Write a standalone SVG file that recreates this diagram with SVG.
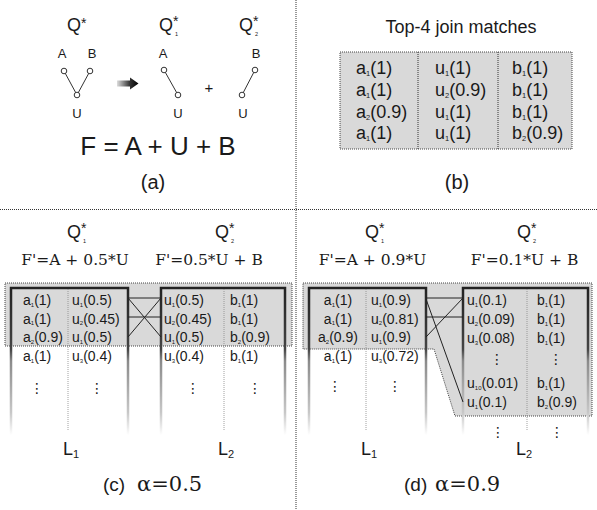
<svg xmlns="http://www.w3.org/2000/svg" width="597" height="510" viewBox="0 0 597 510">
<style>
text{font-family:"Liberation Sans",Arial,sans-serif;fill:#1a1a1a}
.serif{font-family:"DejaVu Serif","Liberation Serif",serif}
.q{font-size:18px}
.st{font-size:14px}
.qs{font-size:5.5px}
.t14{font-size:14px}
.t18{font-size:18px}
.sb{font-size:6px}
.sb8{font-size:7.5px}
.mid{text-anchor:middle}
.dots{font-family:"DejaVu Sans",sans-serif;font-size:14px;text-anchor:middle}
.div{stroke:#333;stroke-width:1;stroke-dasharray:1 1;fill:none}
.area{fill:#d9d9d9;stroke:#444;stroke-width:1;stroke-dasharray:1 1}
.box{fill:none;stroke:url(#fade);stroke-width:2.5}
.col{stroke:#888;stroke-width:0.8;stroke-dasharray:1 1}
.con{stroke:#222;stroke-width:1;fill:none}
.node{fill:#fff;stroke:#333;stroke-width:1}
.edge{stroke:#333;stroke-width:1}
</style>
<defs>
<linearGradient id="fade" gradientUnits="userSpaceOnUse" x1="0" y1="287" x2="0" y2="435">
<stop offset="0" stop-color="#222"/>
<stop offset="0.42" stop-color="#444"/>
<stop offset="0.5" stop-color="#8a8a8a"/>
<stop offset="0.85" stop-color="#c8c8c8"/>
<stop offset="1" stop-color="#fff"/>
</linearGradient>
<linearGradient id="arr" x1="0" y1="0" x2="1" y2="0">
<stop offset="0" stop-color="#ddd"/>
<stop offset="0.6" stop-color="#333"/>
<stop offset="1" stop-color="#000"/>
</linearGradient>
</defs>

<g id="dividers">
<line class="div" x1="296" y1="0" x2="296" y2="510"/>
<line class="div" x1="0" y1="209.5" x2="597" y2="209.5"/>
</g>

<!-- Panel (a) -->
<g id="panel-a">
<g id="qstar">
<text class="q" x="67" y="31">Q</text><text class="st" x="81" y="28">*</text>
</g>
<g id="q1-title">
<text class="q" x="159" y="31">Q</text><text class="st" x="173" y="26">*</text><text class="qs" x="175" y="36">1</text>
</g>
<g id="q2-title">
<text class="q" x="239" y="31">Q</text><text class="st" x="253" y="26">*</text><text class="qs" x="255" y="36">2</text>
</g>
<g id="graph-q">
<line class="edge" x1="64" y1="71" x2="77" y2="95"/>
<line class="edge" x1="90" y1="71" x2="77" y2="95"/>
<text x="62" y="58" font-size="13" class="mid">A</text>
<text x="92" y="58" font-size="13" class="mid">B</text>
<circle class="node" cx="64" cy="71" r="2.8"/>
<circle class="node" cx="90" cy="71" r="2.8"/>
<circle class="node" cx="77" cy="95" r="2.8"/>
<text x="77" y="118" font-size="13" class="mid">U</text>
</g>
<g id="arrow">
<path d="M117,80.5 H130 V77.5 L138.5,83.5 L130,89.5 V86.5 H117 Z" fill="url(#arr)"/>
</g>
<g id="graph-q1">
<line class="edge" x1="164" y1="70" x2="178" y2="95"/>
<text x="163" y="58" font-size="13" class="mid">A</text>
<circle class="node" cx="164" cy="70" r="2.8"/>
<circle class="node" cx="178" cy="95" r="2.8"/>
<text x="178" y="118" font-size="13" class="mid">U</text>
</g>
<text x="209" y="93" font-size="15" class="mid">+</text>
<g id="graph-q2">
<line class="edge" x1="255" y1="70" x2="242" y2="95"/>
<text x="256" y="58" font-size="13" class="mid">B</text>
<circle class="node" cx="255" cy="70" r="2.8"/>
<circle class="node" cx="242" cy="95" r="2.8"/>
<text x="243" y="118" font-size="13" class="mid">U</text>
</g>
<text x="158" y="155" font-size="26" class="mid">F = A + U + B</text>
<text x="153" y="189" font-size="20" class="mid">(a)</text>
</g>

<!-- Panel (b) -->
<g id="panel-b">
<text x="461" y="33" class="t18 mid">Top-4 join matches</text>
<g id="topk-table">
<rect class="area" x="340" y="52" width="232" height="97"/>
<line class="div" x1="418" y1="52" x2="418" y2="149"/>
<line class="div" x1="498" y1="52" x2="498" y2="149"/>
<g class="t18">
<text x="356" y="74">a<tspan class="sb8" dy="2">1</tspan><tspan dy="-2">(1)</tspan></text>
<text x="356" y="96">a<tspan class="sb8" dy="2">1</tspan><tspan dy="-2">(1)</tspan></text>
<text x="356" y="117.5">a<tspan class="sb8" dy="2">2</tspan><tspan dy="-2">(0.9)</tspan></text>
<text x="356" y="139">a<tspan class="sb8" dy="2">1</tspan><tspan dy="-2">(1)</tspan></text>
<text x="435" y="74">u<tspan class="sb8" dy="2">1</tspan><tspan dy="-2">(1)</tspan></text>
<text x="435" y="96">u<tspan class="sb8" dy="2">2</tspan><tspan dy="-2">(0.9)</tspan></text>
<text x="435" y="117.5">u<tspan class="sb8" dy="2">1</tspan><tspan dy="-2">(1)</tspan></text>
<text x="435" y="139">u<tspan class="sb8" dy="2">1</tspan><tspan dy="-2">(1)</tspan></text>
<text x="512" y="74">b<tspan class="sb8" dy="2">1</tspan><tspan dy="-2">(1)</tspan></text>
<text x="512" y="96">b<tspan class="sb8" dy="2">1</tspan><tspan dy="-2">(1)</tspan></text>
<text x="512" y="117.5">b<tspan class="sb8" dy="2">1</tspan><tspan dy="-2">(1)</tspan></text>
<text x="512" y="139">b<tspan class="sb8" dy="2">2</tspan><tspan dy="-2">(0.9)</tspan></text>
</g>
</g>
<text x="457" y="189" font-size="20" class="mid">(b)</text>
</g>

<!-- Panel (c) -->
<g id="panel-c">
<g id="c-q1">
<text class="q" x="67" y="238">Q</text><text class="st" x="81" y="233">*</text><text class="qs" x="83" y="243">1</text>
<text class="serif mid" x="75" y="265" font-size="15.5">F'=A + 0.5*U</text>
</g>
<g id="c-q2">
<text class="q" x="215" y="238">Q</text><text class="st" x="229" y="233">*</text><text class="qs" x="231" y="243">2</text>
<text class="serif mid" x="209" y="265" font-size="15.5">F'=0.5*U + B</text>
</g>
<rect class="area" x="5" y="283" width="287" height="63"/>
<g id="c-L1">
<path class="box" d="M11,435 V288 H128 V435"/>
<line class="col" x1="68" y1="289" x2="68" y2="430"/>
<g class="t14">
<text x="23" y="305">a<tspan class="sb" dy="1.5">1</tspan><tspan dy="-1.5">(1)</tspan></text>
<text x="23" y="323.5">a<tspan class="sb" dy="1.5">1</tspan><tspan dy="-1.5">(1)</tspan></text>
<text x="23" y="342">a<tspan class="sb" dy="1.5">2</tspan><tspan dy="-1.5">(0.9)</tspan></text>
<text x="23" y="361">a<tspan class="sb" dy="1.5">1</tspan><tspan dy="-1.5">(1)</tspan></text>
<text x="72" y="305">u<tspan class="sb" dy="1.5">1</tspan><tspan dy="-1.5">(0.5)</tspan></text>
<text x="72" y="323.5">u<tspan class="sb" dy="1.5">2</tspan><tspan dy="-1.5">(0.45)</tspan></text>
<text x="72" y="342">u<tspan class="sb" dy="1.5">1</tspan><tspan dy="-1.5">(0.5)</tspan></text>
<text x="72" y="361">u<tspan class="sb" dy="1.5">3</tspan><tspan dy="-1.5">(0.4)</tspan></text>
</g>
<text class="dots" x="37" y="393">⋮</text>
<text class="dots" x="97" y="393">⋮</text>
<text x="63" y="455" font-size="18">L<tspan font-size="11" dy="3">1</tspan></text>
</g>
<g id="c-L2">
<path class="box" d="M161,435 V288 H285 V435"/>
<line class="col" x1="224" y1="289" x2="224" y2="430"/>
<g class="t14">
<text x="164" y="305">u<tspan class="sb" dy="1.5">1</tspan><tspan dy="-1.5">(0.5)</tspan></text>
<text x="164" y="323.5">u<tspan class="sb" dy="1.5">2</tspan><tspan dy="-1.5">(0.45)</tspan></text>
<text x="164" y="342">u<tspan class="sb" dy="1.5">1</tspan><tspan dy="-1.5">(0.5)</tspan></text>
<text x="164" y="361">u<tspan class="sb" dy="1.5">3</tspan><tspan dy="-1.5">(0.4)</tspan></text>
<text x="230" y="305">b<tspan class="sb" dy="1.5">1</tspan><tspan dy="-1.5">(1)</tspan></text>
<text x="230" y="323.5">b<tspan class="sb" dy="1.5">1</tspan><tspan dy="-1.5">(1)</tspan></text>
<text x="230" y="342">b<tspan class="sb" dy="1.5">2</tspan><tspan dy="-1.5">(0.9)</tspan></text>
<text x="230" y="361">b<tspan class="sb" dy="1.5">1</tspan><tspan dy="-1.5">(1)</tspan></text>
</g>
<text class="dots" x="193" y="393">⋮</text>
<text class="dots" x="255" y="393">⋮</text>
<text x="218" y="455" font-size="18">L<tspan font-size="11" dy="3">2</tspan></text>
</g>
<g id="c-connectors">
<line class="con" x1="128" y1="298" x2="161" y2="298"/>
<line class="con" x1="128" y1="317" x2="161" y2="317"/>
<line class="con" x1="128" y1="298" x2="161" y2="337"/>
<line class="con" x1="128" y1="337" x2="161" y2="298"/>
</g>
<text x="103" y="491" font-size="19">(c)</text>
<text class="serif" x="137" y="491" font-size="21">α=0.5</text>
</g>

<!-- Panel (d) -->
<g id="panel-d">
<g id="d-q1">
<text class="q" x="365" y="238">Q</text><text class="st" x="379" y="233">*</text><text class="qs" x="381" y="243">1</text>
<text class="serif mid" x="372.5" y="265" font-size="15.5">F'=A + 0.9*U</text>
</g>
<g id="d-q2">
<text class="q" x="517" y="238">Q</text><text class="st" x="531" y="233">*</text><text class="qs" x="533" y="243">2</text>
<text class="serif mid" x="524.5" y="265" font-size="15.5">F'=0.1*U + B</text>
</g>
<polygon class="area" points="303,283 592,283 592,416 455,416 434,349 303,349"/>
<g id="d-L1">
<path class="box" d="M309,435 V288 H426 V435"/>
<line class="col" x1="366" y1="289" x2="366" y2="430"/>
<g class="t14">
<text class="mid" x="338" y="305">a<tspan class="sb" dy="1.5">1</tspan><tspan dy="-1.5">(1)</tspan></text>
<text class="mid" x="338" y="323.5">a<tspan class="sb" dy="1.5">1</tspan><tspan dy="-1.5">(1)</tspan></text>
<text class="mid" x="338" y="342">a<tspan class="sb" dy="1.5">2</tspan><tspan dy="-1.5">(0.9)</tspan></text>
<text class="mid" x="338" y="361">a<tspan class="sb" dy="1.5">1</tspan><tspan dy="-1.5">(1)</tspan></text>
<text x="371" y="305">u<tspan class="sb" dy="1.5">1</tspan><tspan dy="-1.5">(0.9)</tspan></text>
<text x="371" y="323.5">u<tspan class="sb" dy="1.5">2</tspan><tspan dy="-1.5">(0.81)</tspan></text>
<text x="371" y="342">u<tspan class="sb" dy="1.5">1</tspan><tspan dy="-1.5">(0.9)</tspan></text>
<text x="371" y="361">u<tspan class="sb" dy="1.5">3</tspan><tspan dy="-1.5">(0.72)</tspan></text>
</g>
<text class="dots" x="335" y="391">⋮</text>
<text class="dots" x="395" y="391">⋮</text>
<text x="361" y="455" font-size="18">L<tspan font-size="11" dy="3">1</tspan></text>
</g>
<g id="d-L2">
<path class="box" d="M463,435 V288 H588 V435"/>
<line class="col" x1="527" y1="289" x2="527" y2="430"/>
<g class="t14">
<text x="467" y="305">u<tspan class="sb" dy="1.5">1</tspan><tspan dy="-1.5">(0.1)</tspan></text>
<text x="467" y="324">u<tspan class="sb" dy="1.5">2</tspan><tspan dy="-1.5">(0.09)</tspan></text>
<text x="467" y="343">u<tspan class="sb" dy="1.5">3</tspan><tspan dy="-1.5">(0.08)</tspan></text>
<text x="467" y="388">u<tspan class="sb" dy="1.5">10</tspan><tspan dy="-1.5">(0.01)</tspan></text>
<text x="467" y="407">u<tspan class="sb" dy="1.5">1</tspan><tspan dy="-1.5">(0.1)</tspan></text>
<text x="537" y="305">b<tspan class="sb" dy="1.5">1</tspan><tspan dy="-1.5">(1)</tspan></text>
<text x="537" y="324">b<tspan class="sb" dy="1.5">1</tspan><tspan dy="-1.5">(1)</tspan></text>
<text x="537" y="343">b<tspan class="sb" dy="1.5">1</tspan><tspan dy="-1.5">(1)</tspan></text>
<text x="537" y="388">b<tspan class="sb" dy="1.5">1</tspan><tspan dy="-1.5">(1)</tspan></text>
<text x="537" y="407">b<tspan class="sb" dy="1.5">2</tspan><tspan dy="-1.5">(0.9)</tspan></text>
</g>
<text class="dots" x="497" y="364">⋮</text>
<text class="dots" x="556" y="364">⋮</text>
<text class="dots" x="498" y="437">⋮</text>
<text class="dots" x="557" y="437">⋮</text>
<text x="516" y="455" font-size="18">L<tspan font-size="11" dy="3">2</tspan></text>
</g>
<g id="d-connectors">
<line class="con" x1="426" y1="298" x2="463" y2="298"/>
<line class="con" x1="426" y1="317" x2="463" y2="317"/>
<line class="con" x1="426" y1="337" x2="463" y2="298"/>
<line class="con" x1="426" y1="299" x2="463" y2="402"/>
</g>
<text x="404" y="491" font-size="19">(d)</text>
<text class="serif" x="435" y="491" font-size="21">α=0.9</text>
</g>
</svg>
